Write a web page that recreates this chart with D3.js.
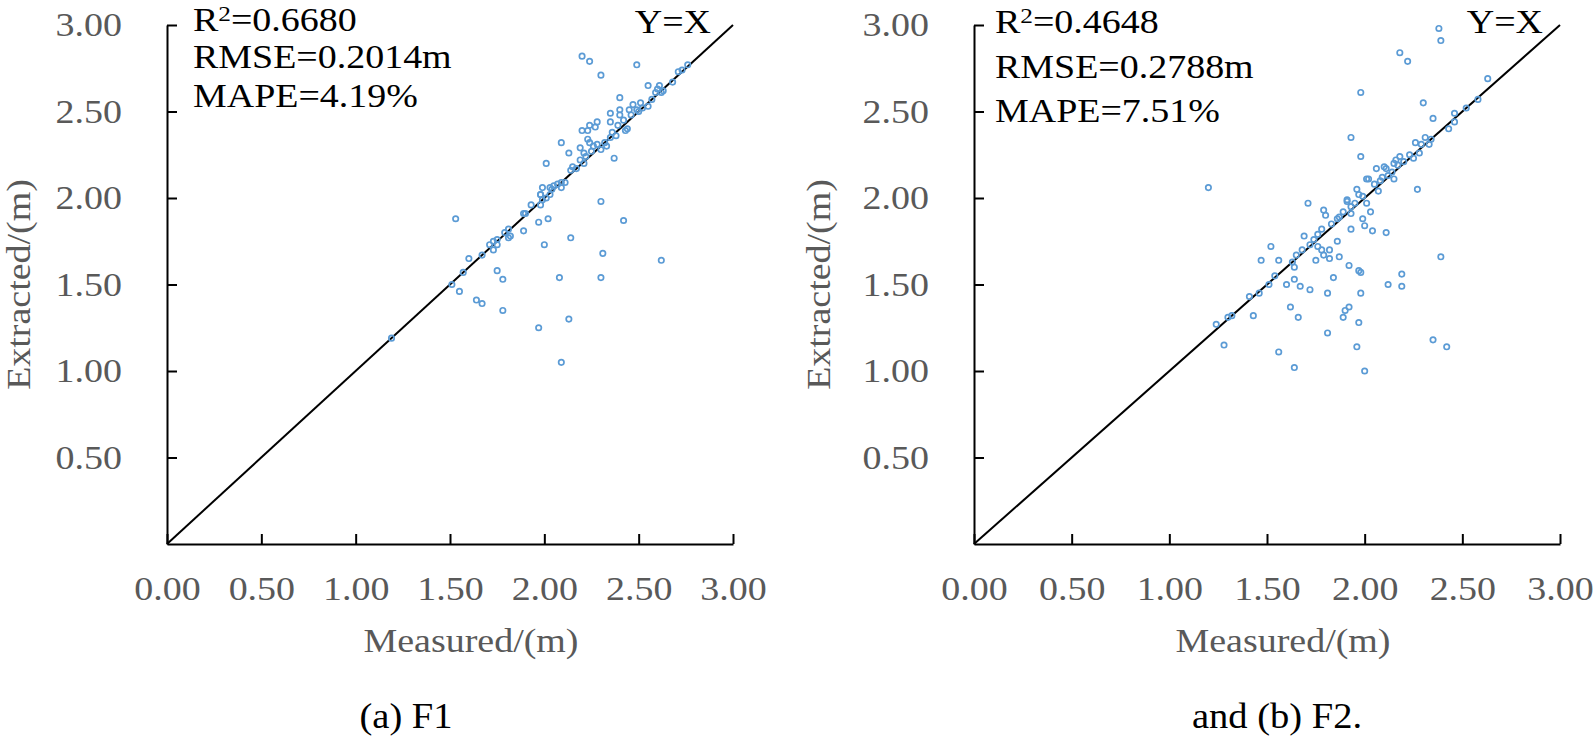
<!DOCTYPE html>
<html>
<head>
<meta charset="utf-8">
<script src="https://cdn.jsdelivr.net/npm/d3@7"></script>
<style>
  body { margin: 0; background: #fff; }
  svg { display: block; }
  text { font-family: "Liberation Serif", "Times New Roman", serif; }
</style>
</head>
<body>
<svg width="1594" height="741"></svg>
<script>
// tick values shared by both panels
const tickValues = [0, 0.5, 1, 1.5, 2, 2.5, 3];

// panel (a) F1: [measured, extracted]
const f1Points = [
  [1.19, 1.19],
  [1.51, 1.50], [1.55, 1.46], [1.53, 1.88], [1.57, 1.57], [1.60, 1.65], [1.64, 1.41],
  [1.67, 1.39], [1.67, 1.67], [1.71, 1.73], [1.73, 1.70], [1.75, 1.73], [1.75, 1.76],
  [1.73, 1.75], [1.75, 1.58], [1.78, 1.53], [1.78, 1.35], [1.79, 1.80], [1.81, 1.77],
  [1.82, 1.78], [1.81, 1.82], [1.89, 1.81], [1.97, 1.86], [2.02, 1.88], [1.89, 1.91],
  [1.90, 1.91], [1.93, 1.96], [1.98, 1.96], [1.99, 1.99], [1.98, 2.02], [1.99, 2.06],
  [2.01, 2.00], [2.03, 2.02], [2.04, 2.05], [2.07, 2.08], [2.09, 2.06], [2.11, 2.09],
  [1.97, 1.25], [2.13, 1.30], [2.09, 1.05], [2.08, 1.54], [2.30, 1.54], [2.31, 1.68],
  [2.62, 1.64], [2.00, 1.73], [2.14, 1.77], [2.42, 1.87], [2.30, 1.98],
  [2.20, 2.82], [2.24, 2.79], [2.49, 2.77], [2.30, 2.71], [2.40, 2.58], [2.55, 2.65],
  [2.60, 2.63], [2.61, 2.65], [2.59, 2.61], [2.62, 2.61], [2.68, 2.67], [2.71, 2.73],
  [2.73, 2.74], [2.76, 2.77],
  [2.40, 2.51], [2.40, 2.48], [2.35, 2.49], [2.28, 2.44], [2.24, 2.42], [2.20, 2.39],
  [2.23, 2.39], [2.27, 2.41], [2.35, 2.44], [2.39, 2.42], [2.47, 2.54], [2.51, 2.55],
  [2.49, 2.51], [2.45, 2.51], [2.46, 2.48], [2.44, 2.40], [2.43, 2.39], [2.36, 2.38],
  [2.09, 2.32], [2.13, 2.26], [2.01, 2.20], [2.37, 2.23], [2.19, 2.29], [2.23, 2.34],
  [2.24, 2.32], [2.26, 2.30], [2.28, 2.31], [2.32, 2.32], [2.35, 2.35], [2.21, 2.26],
  [2.22, 2.24], [2.19, 2.22], [2.15, 2.18], [2.14, 2.16], [2.17, 2.17], [2.21, 2.20],
  [2.03, 2.06], [2.05, 2.07], [2.09, 2.09], [1.98, 2.02],
  [2.25, 2.27], [2.30, 2.28], [2.33, 2.30], [2.52, 2.52], [2.55, 2.53], [2.57, 2.57],
  [2.63, 2.62], [2.50, 2.50], [2.42, 2.45], [2.38, 2.36]
];

// panel (b) F2: [measured, extracted]
const f2Points = [
  [2.38, 2.98], [2.39, 2.91], [2.18, 2.84], [2.22, 2.79], [2.63, 2.69], [1.98, 2.61],
  [2.30, 2.55], [2.58, 2.57], [2.52, 2.52], [2.46, 2.49], [2.46, 2.44], [2.43, 2.40],
  [2.35, 2.46], [1.93, 2.35], [2.26, 2.32], [2.31, 2.35], [2.34, 2.34], [2.33, 2.31],
  [2.29, 2.31], [2.28, 2.26], [2.25, 2.23], [1.98, 2.24], [2.18, 2.24], [2.16, 2.22],
  [2.15, 2.20], [2.11, 2.17], [2.06, 2.17], [2.10, 2.18], [2.14, 2.15], [2.01, 2.11],
  [2.02, 2.11], [2.15, 2.11], [2.08, 2.10], [2.27, 2.05], [1.20, 2.06], [1.96, 2.05],
  [2.07, 2.04], [1.91, 1.99],
  [1.71, 1.97], [1.79, 1.93], [1.80, 1.90], [1.91, 1.98], [1.93, 1.95], [1.97, 2.02],
  [2.01, 1.97], [2.03, 1.92], [1.99, 1.88], [2.00, 1.84], [1.93, 1.82], [2.04, 1.81],
  [2.11, 1.80], [1.83, 1.85], [1.87, 1.89], [1.89, 1.92], [1.93, 1.91], [1.69, 1.78],
  [1.78, 1.82], [1.76, 1.79], [1.74, 1.76], [1.72, 1.73], [1.76, 1.72], [1.78, 1.70],
  [1.82, 1.70], [1.86, 1.75], [1.52, 1.72], [1.47, 1.64], [1.56, 1.64], [1.65, 1.67],
  [1.68, 1.70], [1.63, 1.63], [1.64, 1.60], [1.75, 1.64], [1.79, 1.67], [1.82, 1.65],
  [1.87, 1.66], [1.92, 1.61], [1.97, 1.58], [1.98, 1.57], [1.84, 1.54], [2.39, 1.66],
  [2.19, 1.56], [2.19, 1.49], [2.12, 1.50], [1.54, 1.55], [1.51, 1.50], [1.46, 1.45],
  [1.60, 1.50], [1.64, 1.53], [1.67, 1.49], [1.72, 1.47], [1.81, 1.45], [1.98, 1.45],
  [1.41, 1.43], [1.62, 1.37], [1.66, 1.31], [1.43, 1.32], [1.32, 1.32], [1.30, 1.31],
  [1.24, 1.27], [1.28, 1.15], [1.92, 1.37], [1.90, 1.35], [1.89, 1.31], [1.97, 1.28],
  [1.81, 1.22], [1.56, 1.11], [1.64, 1.02], [1.96, 1.14], [2.00, 1.00], [2.35, 1.18],
  [2.42, 1.14],
  [2.05, 2.08], [2.12, 2.13], [2.20, 2.21], [2.23, 2.25], [2.17, 2.19], [1.95, 1.97],
  [1.99, 2.01], [2.09, 2.12], [1.86, 1.88]
];

const panels = [
  { points: f1Points, x0: 167, x1: 733, r2: "0.6680", rmse: "0.2014m", mape: "4.19%",
    caption: "(a) F1", capX: 406, titleX: 471, yTitleX: 30, noteX: 193, noteY: [31, 68, 107], yxX: 711 },
  { points: f2Points, x0: 974, x1: 1560, r2: "0.4648", rmse: "0.2788m", mape: "7.51%",
    caption: "and (b) F2.", capX: 1277, titleX: 1283, yTitleX: 830, noteX: 995, noteY: [33, 78, 122], yxX: 1543 }
];

const svg = d3.select("svg");
const plotTop = 25, plotBottom = 544;

function stretch(sel, k = 1.15) {
  sel.each(function () {
    const w = this.getComputedTextLength();
    this.setAttribute("textLength", w * k);
    this.setAttribute("lengthAdjust", "spacingAndGlyphs");
  });
}

panels.forEach(p => {
  const x = d3.scaleLinear().domain([0, 3]).range([p.x0, p.x1]);
  const y = d3.scaleLinear().domain([0, 3]).range([plotBottom, plotTop]);
  const g = svg.append("g");

  const xAxis = g.append("g")
    .attr("transform", `translate(0,${plotBottom})`)
    .call(d3.axisBottom(x).tickValues(tickValues).tickFormat(d3.format(".2f"))
      .tickSizeInner(-10).tickSizeOuter(0).tickPadding(33));

  const yAxis = g.append("g")
    .attr("transform", `translate(${p.x0},0)`)
    .call(d3.axisLeft(y).tickValues(tickValues.slice(1)).tickFormat(d3.format(".2f"))
      .tickSizeInner(-10).tickSizeOuter(0).tickPadding(45));

  [xAxis, yAxis].forEach(a => {
    a.selectAll("path, line").attr("stroke", "#000").attr("stroke-width", 2);
    a.selectAll("text").attr("fill", "#595959").style("font-size", "33px")
      .style("font-family", "'Liberation Serif', serif").call(stretch);
  });

  // Y = X reference line
  g.append("line")
    .attr("x1", x(0)).attr("y1", y(0))
    .attr("x2", x(3)).attr("y2", y(3))
    .attr("stroke", "#000").attr("stroke-width", 2);

  g.selectAll("circle")
    .data(p.points)
    .enter().append("circle")
    .attr("cx", d => x(d[0]))
    .attr("cy", d => y(d[1]))
    .attr("r", 2.7)
    .attr("fill", "none")
    .attr("stroke", "#5b9bd5")
    .attr("stroke-width", 1.7);

  g.append("text")
    .attr("x", p.yxX).attr("y", 33)
    .attr("text-anchor", "end")
    .style("font-size", "33px")
    .text("Y=X").call(stretch);

  const r2 = g.append("text")
    .attr("x", p.noteX).attr("y", p.noteY[0])
    .style("font-size", "33px");
  r2.append("tspan").text("R");
  r2.append("tspan").attr("dy", -10).style("font-size", "22px").text("2");
  r2.append("tspan").attr("dy", 10).text("=" + p.r2);
  r2.call(stretch);

  g.append("text").attr("x", p.noteX).attr("y", p.noteY[1])
    .style("font-size", "33px").text("RMSE=" + p.rmse).call(stretch);
  g.append("text").attr("x", p.noteX).attr("y", p.noteY[2])
    .style("font-size", "33px").text("MAPE=" + p.mape).call(stretch);

  g.append("text")
    .attr("x", p.titleX).attr("y", 652)
    .attr("text-anchor", "middle")
    .attr("fill", "#595959")
    .style("font-size", "33px")
    .text("Measured/(m)").call(stretch);

  g.append("text")
    .attr("transform", `translate(${p.yTitleX},${(plotTop + plotBottom) / 2}) rotate(-90)`)
    .attr("text-anchor", "middle")
    .attr("fill", "#595959")
    .style("font-size", "33px")
    .text("Extracted/(m)").call(stretch);

  g.append("text")
    .attr("x", p.capX).attr("y", 728)
    .attr("text-anchor", "middle")
    .style("font-size", "36px")
    .text(p.caption).call(stretch, 1.07);
});
</script>
</body>
</html>
